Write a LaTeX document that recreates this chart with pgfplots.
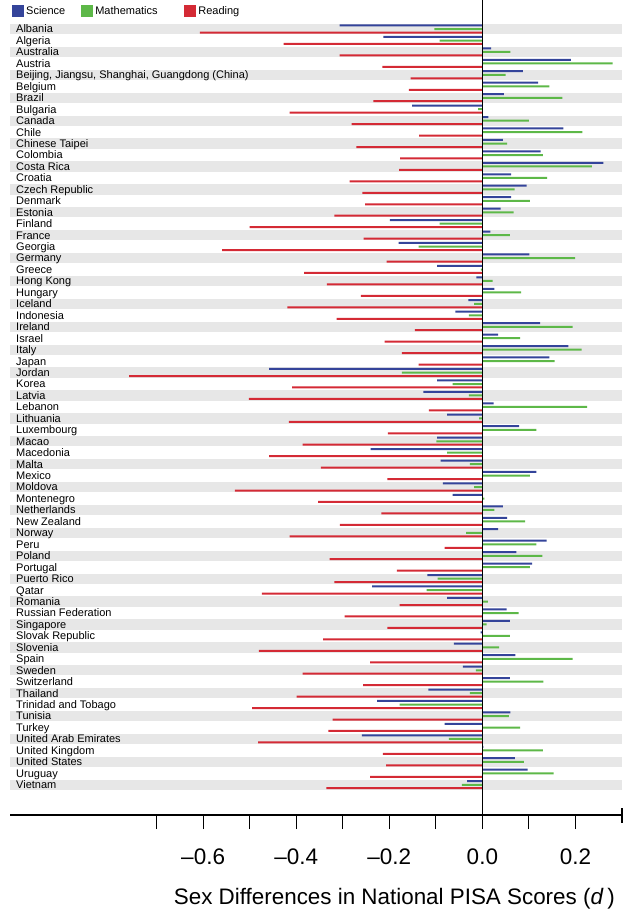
\documentclass[border=0pt]{standalone}
\usepackage{pgfplots}
\pgfplotsset{compat=1.18}
\usepackage{pgfplotstable}
\usepackage{fontspec}
\setmainfont{Liberation Sans}
\definecolor{sci}{HTML}{34449A}
\definecolor{mat}{HTML}{5DB848}
\definecolor{rea}{HTML}{D42A35}
\definecolor{band}{HTML}{E7E7E7}

\pgfplotstableread{
i sci mat rea
0 -0.307 -0.103 -0.607
1 -0.213 -0.092 -0.427
2 0.019 0.060 -0.307
3 0.190 0.280 -0.215
4 0.087 0.050 -0.154
5 0.120 0.144 -0.158
6 0.046 0.172 -0.234
7 -0.151 -0.009 -0.414
8 0.013 0.100 -0.281
9 0.174 0.215 -0.136
10 0.044 0.053 -0.271
11 0.125 0.130 -0.177
12 0.260 0.235 -0.179
13 0.062 0.139 -0.285
14 0.095 0.069 -0.258
15 0.062 0.102 -0.252
16 0.039 0.067 -0.318
17 -0.199 -0.092 -0.500
18 0.017 0.059 -0.255
19 -0.180 -0.137 -0.559
20 0.101 0.199 -0.206
21 -0.097 -0.003 -0.383
22 -0.013 0.022 -0.334
23 0.026 0.083 -0.261
24 -0.030 -0.018 -0.419
25 -0.058 -0.029 -0.313
26 0.124 0.194 -0.145
27 0.034 0.081 -0.210
28 0.185 0.213 -0.173
29 0.144 0.155 -0.137
30 -0.458 -0.173 -0.759
31 -0.097 -0.064 -0.409
32 -0.127 -0.029 -0.502
33 0.024 0.225 -0.115
34 -0.076 -0.007 -0.416
35 0.079 0.116 -0.203
36 -0.097 -0.099 -0.386
37 -0.240 -0.076 -0.458
38 -0.090 -0.027 -0.347
39 0.116 0.102 -0.204
40 -0.085 -0.018 -0.532
41 -0.064 0.004 -0.353
42 0.044 0.026 -0.217
43 0.053 0.092 -0.306
44 0.034 -0.035 -0.414
45 0.138 0.116 -0.081
46 0.073 0.129 -0.328
47 0.107 0.102 -0.184
48 -0.118 -0.096 -0.318
49 -0.237 -0.120 -0.474
50 -0.076 0.012 -0.178
51 0.052 0.078 -0.296
52 0.059 0.009 -0.204
53 -0.004 0.059 -0.342
54 -0.061 0.036 -0.480
55 0.071 0.194 -0.241
56 -0.042 -0.014 -0.386
57 0.059 0.131 -0.256
58 -0.116 -0.027 -0.399
59 -0.226 -0.178 -0.495
60 0.060 0.057 -0.322
61 -0.081 0.081 -0.331
62 -0.259 -0.072 -0.482
63 0.002 0.130 -0.214
64 0.070 0.089 -0.207
65 0.097 0.153 -0.241
66 -0.033 -0.044 -0.335
}\data

\begin{document}
\begin{tikzpicture}
\useasboundingbox (0,0) rectangle (640pt,917pt);
\begin{axis}[
  axis on top,
  at={(10pt,102pt)}, anchor=south west,
  scale only axis, width=612pt, height=815pt,
  xmin=-1.015, xmax=0.3, ymin=-2.54, ymax=68.64, y dir=reverse,
  axis x line=bottom, axis y line=left,
  x axis line style={-, line width=1.1pt},
  y axis line style={draw=none},
  tick align=outside,
  major tick length=14pt,
  xtick={-0.7,-0.6,-0.5,-0.4,-0.3,-0.2,-0.1,0,0.1,0.2},
  xticklabels={,–0.6,,–0.4,,–0.2,,0.0,,0.2},
  x tick style={line width=1.1pt, black},
  extra x ticks={0.3}, extra x tick labels={},
  extra x tick style={tick align=center, major tick length=15pt},
  xticklabel style={font=\fontsize{22.5}{26}\selectfont, yshift=-16pt},
  ytick={0,...,66},
  yticklabels={Albania,Algeria,Australia,Austria,{Beijing, Jiangsu, Shanghai, Guangdong (China)},Belgium,Brazil,Bulgaria,Canada,Chile,Chinese Taipei,Colombia,Costa Rica,Croatia,Czech Republic,Denmark,Estonia,Finland,France,Georgia,Germany,Greece,Hong Kong,Hungary,Iceland,Indonesia,Ireland,Israel,Italy,Japan,Jordan,Korea,Latvia,Lebanon,Lithuania,Luxembourg,Macao,Macedonia,Malta,Mexico,Moldova,Montenegro,Netherlands,New Zealand,Norway,Peru,Poland,Portugal,Puerto Rico,Qatar,Romania,Russian Federation,Singapore,Slovak Republic,Slovenia,Spain,Sweden,Switzerland,Thailand,Trinidad and Tobago,Tunisia,Turkey,United Arab Emirates,United Kingdom,United States,Uruguay,Vietnam},
  ytick style={draw=none},
  yticklabel style={anchor=base west, xshift=20pt, yshift=-3.9pt, inner sep=0pt, font=\fontsize{11}{12}\selectfont},
  xlabel={Sex Differences in National PISA Scores (\textit{d}\,)},
  xlabel style={at={(rel axis cs:0.9886,0)}, anchor=north east, yshift=-73pt, inner sep=0pt, font=\fontsize{22.4}{26}\selectfont},
  legend columns=-1,
  legend style={draw=none, fill=none, at={(rel axis cs:0,1)}, anchor=north west, xshift=2pt, yshift=-4pt, inner sep=0pt, font=\fontsize{11}{13}\selectfont, /tikz/every even column/.append style={column sep=14pt}},
  mybar/.style={xbar, bar width=2pt, bar shift=0pt, draw=none, legend image code/.code={\fill[##1] (0pt,-6pt) rectangle (12pt,6pt);}},
]
\pgfplotsinvokeforeach{0,2,...,66}{
  \fill[band] (axis cs:-1.015,#1-0.45) rectangle (axis cs:0.3,#1+0.45);
}
\addplot[mybar, fill=sci] table[x=sci, y expr=\thisrow{i}-0.32] {\data};
\addlegendentry{Science}
\addplot[mybar, fill=mat] table[x=mat, y expr=\thisrow{i}] {\data};
\addlegendentry{\makebox[73pt][l]{Mathematics}}
\addplot[mybar, fill=rea] table[x=rea, y expr=\thisrow{i}+0.30] {\data};
\addlegendentry{Reading}
\addplot[black, line width=0.9pt, forget plot] coordinates {(0,-2.54) (0,68.64)};
\end{axis}
\end{tikzpicture}
\end{document}
